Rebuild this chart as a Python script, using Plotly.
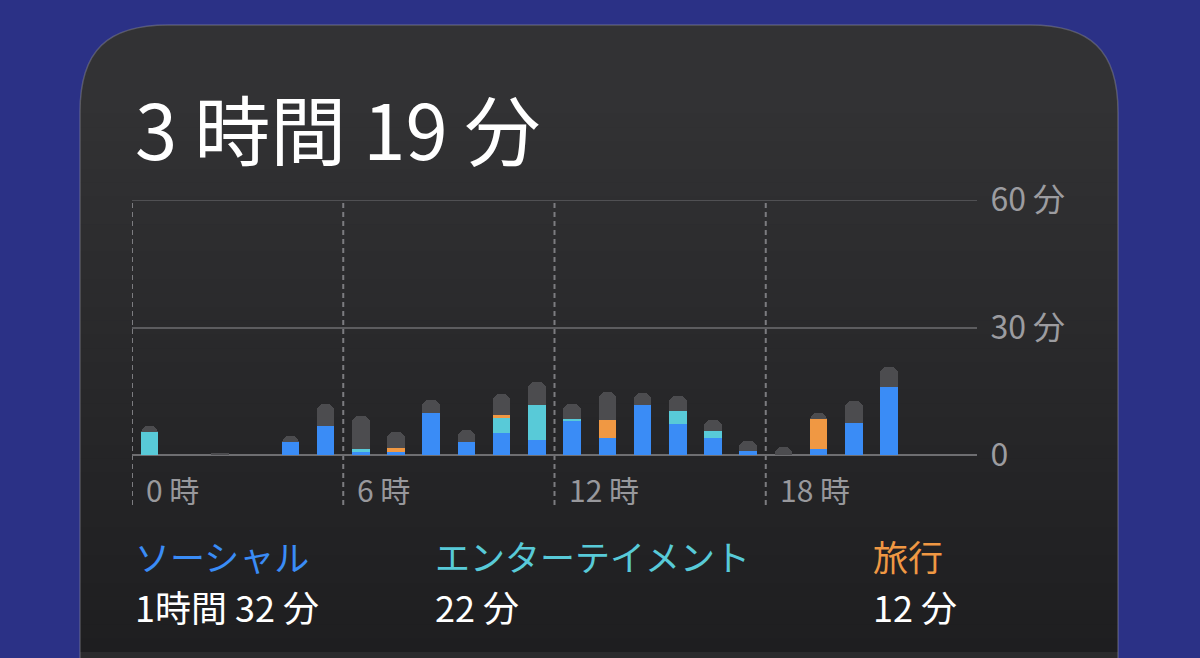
import plotly.graph_objects as go

# ---- data (minutes per hour) ----
hours = list(range(24))
social = [0, 0, 0, 0, 3.1, 6.9, 0.8, 0.8, 10.0, 3.0, 5.2, 3.5, 7.9, 4.0, 11.8, 7.2, 4.0, 0.9, 0, 1.3, 7.6, 16.0, 0, 0]
entertainment = [5.5, 0, 0, 0, 0, 0, 0.5, 0, 0, 0, 3.5, 8.3, 0.6, 0, 0, 3.1, 1.6, 0, 0, 0, 0, 0, 0, 0]
travel = [0, 0, 0, 0, 0, 0, 0, 0.8, 0, 0, 0.8, 0, 0, 4.2, 0, 0, 0, 0, 0, 7.1, 0, 0, 0, 0]
other = [1.3, 0, 0.3, 0, 1.3, 5.1, 7.8, 3.7, 3.0, 2.9, 4.9, 5.3, 3.4, 6.7, 2.7, 3.7, 2.7, 2.3, 1.9, 1.4, 5.1, 4.7, 0, 0]

y_tickvals = [0, 30, 60]
y_ticktext = ["0", "30 分", "60 分"]
x_label_hours = [0, 6, 12, 18]
x_label_text = ["0 時", "6 時", "12 時", "18 時"]

title_text = "3 時間 19 分"
legend_names = ["ソーシャル", "エンターテイメント", "旅行"]
legend_values = ["1時間 32 分", "22 分", "12 分"]

# ---- styling ----
W, H = 1200, 658
L, R = 132, 977          # plot area x (pixels)
T, B = 200, 455          # plot area y (pixels)
FONT = "Noto Sans CJK JP"

C_SOCIAL = "#3a8cf6"
C_ENT = "#58cad8"
C_TRAVEL = "#f09843"
C_OTHER = "#4c4c4f"
BG = "#2b3186"


def px(X):
    return (X - L) / (R - L)


def py(Y):
    return (B - Y) / (B - T)


def path_from(points_cmds):
    out = []
    for item in points_cmds:
        if isinstance(item, str):
            out.append(item)
        else:
            out.append(f"{px(item[0]):.5f},{py(item[1]):.5f}")
    return " ".join(out)


xs = [h + 0.5 for h in hours]

fig = go.Figure()
for name, vals, col in [("ソーシャル", social, C_SOCIAL),
                        ("エンターテイメント", entertainment, C_ENT),
                        ("旅行", travel, C_TRAVEL),
                        ("その他", other, C_OTHER)]:
    fig.add_trace(go.Bar(x=xs, y=vals, name=name, marker=dict(color=col, line=dict(width=0)),
                         width=0.5, showlegend=False, hoverinfo="skip"))

shapes = []
# card body
card_pts = ["M", (80, 690), "L", (80, 112), "C", (80, 50), (108, 25), (168, 25),
            "L", (1030, 25), "C", (1090, 25), (1118, 50), (1118, 112),
            "L", (1118, 690), "Z"]
shapes.append(dict(type="path", xref="paper", yref="paper", path=path_from(card_pts),
                   fillcolor="#323234", line=dict(width=0), layer="below"))
# vertical gradient bands
n = 40
y_start, y_end = 100, 652
top_c, bot_c = (50, 50, 52), (30, 30, 32)
for i in range(n):
    y0 = y_start + (y_end - y_start) * i / n
    y1 = y_start + (y_end - y_start) * (i + 1) / n
    t = (i + 0.5) / n
    c = tuple(round(top_c[k] + (bot_c[k] - top_c[k]) * t) for k in range(3))
    shapes.append(dict(type="rect", xref="paper", yref="paper",
                       x0=px(80), x1=px(1118), y0=py(y0), y1=py(y1 + 0.6),
                       fillcolor=f"rgb{c}", line=dict(width=0), layer="below"))
# bottom separator strip
shapes.append(dict(type="rect", xref="paper", yref="paper", x0=px(80), x1=px(1118),
                   y0=py(652), y1=py(670), fillcolor="#2b2b2d", line=dict(width=0), layer="below"))
# card outline
shapes.append(dict(type="path", xref="paper", yref="paper", path=path_from(card_pts),
                   fillcolor="rgba(0,0,0,0)", line=dict(width=1.5, color="rgba(150,150,160,0.4)"),
                   layer="below"))
# top gridline (60)
shapes.append(dict(type="line", xref="paper", yref="y", x0=0, x1=1, y0=60, y1=60,
                   line=dict(color="#5c5c5f", width=1.5), layer="between"))
# dashed vertical hour lines
for h in x_label_hours:
    shapes.append(dict(type="line", xref="x", yref="paper", x0=h, x1=h, y0=py(505), y1=1,
                       line=dict(color="#7c7c80", width=2, dash="5px,4px"), layer="between"))

annotations = []
for h, txt in zip(x_label_hours, x_label_text):
    annotations.append(dict(x=h, xref="x", y=py(489), yref="paper", text=txt, showarrow=False,
                            xanchor="left", yanchor="middle", xshift=12,
                            font=dict(family=FONT, size=30, color="#98989c")))
annotations.append(dict(x=px(133), xref="paper", y=py(127), yref="paper", text=title_text,
                        showarrow=False, xanchor="left", yanchor="middle",
                        font=dict(family=FONT, size=76, color="#ffffff")))
leg_x = [133, 433, 871]
leg_col = [C_SOCIAL, C_ENT, C_TRAVEL]
for xx, nm, vv, cc in zip(leg_x, legend_names, legend_values, leg_col):
    annotations.append(dict(x=px(xx), xref="paper", y=py(555), yref="paper", text=nm,
                            showarrow=False, xanchor="left", yanchor="middle",
                            font=dict(family=FONT, size=35, color=cc)))
    annotations.append(dict(x=px(xx), xref="paper", y=py(606), yref="paper", text=vv,
                            showarrow=False, xanchor="left", yanchor="middle",
                            font=dict(family=FONT, size=36, color="#ffffff")))

fig.update_layout(
    width=W, height=H,
    margin=dict(l=L, r=W - R, t=T, b=H - B, pad=0),
    paper_bgcolor=BG, plot_bgcolor="rgba(0,0,0,0)",
    barmode="stack", bargap=0, barcornerradius=7,
    shapes=shapes, annotations=annotations,
    xaxis=dict(range=[0, 24], showgrid=False, zeroline=False, showticklabels=False,
               ticks="", showline=False, fixedrange=True),
    yaxis=dict(range=[0, 60], side="right", tickvals=y_tickvals, ticktext=y_ticktext,
               showgrid=True, gridcolor="#5c5c5f", gridwidth=1.5,
               zeroline=True, zerolinecolor="#6e6e71", zerolinewidth=2,
               ticks="outside", ticklen=6, tickcolor="rgba(0,0,0,0)",
               tickfont=dict(family=FONT, size=32, color="#9c9ca0"),
               showline=False, fixedrange=True),
    showlegend=False,
)

fig.write_html("out.html", config={"displayModeBar": False},
               post_script="document.body.style.margin='0';document.body.style.overflow='hidden';")
